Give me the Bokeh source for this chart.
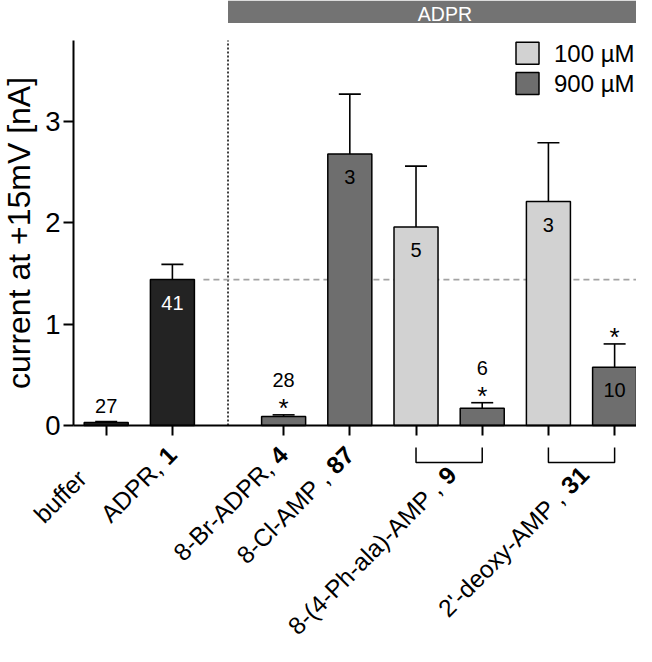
import math
from bokeh.plotting import figure
from bokeh.models import FixedTicker, ColumnDataSource, BoxAnnotation, Range1d
from bokeh.core.properties import value
from bokeh.embed import file_html
from bokeh.resources import INLINE

# ---------------- data ----------------
compounds = ["buffer", "ADPR", "8-Br-ADPR", "8-Cl-AMP", "8-(4-Ph-ala)-AMP",
             "8-(4-Ph-ala)-AMP", "2'-deoxy-AMP", "2'-deoxy-AMP"]
conc_group = ["control", "control", "900 µM", "900 µM", "100 µM", "900 µM", "100 µM", "900 µM"]
means = [0.03, 1.44, 0.09, 2.68, 1.96, 0.17, 2.21, 0.575]
sems = [0.01, 0.15, 0.015, 0.59, 0.60, 0.055, 0.58, 0.23]
n_cells = [27, 41, 28, 3, 5, 6, 3, 10]
significant = [False, False, True, False, False, True, False, True]

label_text = ["buffer", "ADPR,", "8-Br-ADPR,", "8-Cl-AMP ,", "8-(4-Ph-ala)-AMP ,", "2'-deoxy-AMP ,"]
label_bold = ["", "1", "4", "87", "9", "31"]
label_members = [[0], [1], [2], [3], [4, 5], [6, 7]]
legend_labels = ["100 µM", "900 µM"]
y_ticks = [0, 1, 2, 3]
header_text = "ADPR"
y_title = "current at +15mV [nA]"

# ---------------- layout ----------------
W, H = 636, 646
PX_X = 66.2      # px per category step
PX_Y = 101.33    # px per nA
ORIG_X, ORIG_Y = 105.7, 425.0   # canvas position of (first bar, 0 nA)

def to_u(X):
    return (X - ORIG_X) / PX_X

def to_v(Y):
    return (ORIG_Y - Y) / PX_Y

def dxp(px):
    return px / PX_X

def dyp(px):
    return px / PX_Y

x_start, x_end = to_u(0), to_u(W)
y_end, y_start = to_v(0), to_v(H)

FONT_NAME = "Liberation Sans"
FONT = value(FONT_NAME)
colors = {"control": "#232323", "100 µM": "#d2d2d2", "900 µM": "#6e6e6e"}

xpos = [i if i < 2 else i + 0.68 for i in range(len(means))]
bar_w = 0.665
cap_w = dxp(22)
y_axis_top = 3.8
y_axis_x = to_u(73)
x_axis_end = to_u(652)

p = figure(width=W, height=H, x_range=Range1d(x_start, x_end), y_range=Range1d(y_start, y_end),
           output_backend="svg", toolbar_location=None, min_border=0, title=None)
p.outline_line_color = None
p.xgrid.visible = False
p.ygrid.visible = False
p.background_fill_color = "white"
p.border_fill_color = "white"

# axes
ya = p.yaxis[0]
ya.fixed_location = y_axis_x
ya.bounds = (0, y_axis_top)
ya.ticker = FixedTicker(ticks=y_ticks)
ya.major_tick_out = 10
ya.major_tick_in = 0
ya.minor_tick_line_color = None
ya.axis_line_width = 2
ya.major_tick_line_width = 2
ya.major_label_standoff = 3
ya.major_label_text_font = FONT_NAME
ya.major_label_text_font_size = "27.5px"
ya.major_label_text_color = "black"
ya.axis_label = y_title
ya.axis_label_text_font = FONT_NAME
ya.axis_label_text_font_size = "32px"
ya.axis_label_text_font_style = "normal"
ya.axis_label_text_color = "black"
ya.axis_label_standoff = 5

xa = p.xaxis[0]
xa.fixed_location = 0
xa.bounds = (y_axis_x, x_axis_end)
xa.ticker = FixedTicker(ticks=xpos)
xa.major_label_overrides = {x: "" for x in xpos}
xa.major_label_text_font_size = "0px"
xa.major_tick_out = 10
xa.major_tick_in = 0
xa.minor_tick_line_color = None
xa.axis_line_width = 2
xa.major_tick_line_width = 2

# header bar
divider = (xpos[1] + xpos[2]) / 2
header_bottom = y_axis_top + dyp(17.5)
p.add_layout(BoxAnnotation(left=divider, bottom=header_bottom, fill_color="#737373",
                           fill_alpha=1.0, line_alpha=0, level="underlay"))
p.text(x=[(divider + x_axis_end) / 2 + 0.07], y=[header_bottom + dyp(9)], text=[header_text],
       text_font=FONT, text_font_size="19.5px", text_color="white",
       text_align="center", text_baseline="middle")

# divider (dotted) and ADPR reference (dashed)
p.segment(x0=[divider], y0=[0], x1=[divider], y1=[y_axis_top], line_color="black",
          line_width=1.5, line_dash="2 2")
p.segment(x0=[xpos[1] + bar_w / 2 + dxp(9)], y0=[means[1]], x1=[x_axis_end], y1=[means[1]],
          line_color="#a3a3a3", line_width=1.6, line_dash="6 4")

# bars + error bars
tops = [m + s for m, s in zip(means, sems)]
src = ColumnDataSource(dict(x=xpos, top=means, err=tops,
                            fill=[colors[g] for g in conc_group],
                            cl=[x - cap_w / 2 for x in xpos], cr=[x + cap_w / 2 for x in xpos]))
p.segment(x0="x", y0="top", x1="x", y1="err", source=src, line_color="black", line_width=1.6)
p.segment(x0="cl", y0="err", x1="cr", y1="err", source=src, line_color="black", line_width=1.6)
p.vbar(x="x", top="top", bottom=0, width=bar_w, source=src, fill_color="fill",
       line_color="black", line_width=1.5)

# n labels and significance stars
in_x, in_y, in_t, in_c = [], [], [], []
ab_x, ab_y, ab_t = [], [], []
st_x, st_y = [], []
for x, m, t, n, sig, g in zip(xpos, means, tops, n_cells, significant, conc_group):
    if m > 0.4:
        in_x.append(x); in_y.append(m - dyp(23)); in_t.append(str(n))
        in_c.append("white" if g == "control" else "black")
    else:
        ab_x.append(x); ab_t.append(str(n))
        ab_y.append(t + (dyp(35) if sig else dyp(15)))
    if sig:
        st_x.append(x); st_y.append(t + dyp(7))
p.text(x=in_x, y=in_y, text=in_t, text_color=in_c, text_font=FONT, text_font_size="20px",
       text_align="center", text_baseline="middle")
p.text(x=ab_x, y=ab_y, text=ab_t, text_color="black", text_font=FONT, text_font_size="20px",
       text_align="center", text_baseline="middle")
p.text(x=st_x, y=st_y, text=["*"] * len(st_x), text_color="black", text_font=FONT,
       text_font_size="26px", text_align="center", text_baseline="middle")

# brackets under paired bars
br_xs, br_ys = [], []
for members in label_members:
    if len(members) > 1:
        a, b = xpos[members[0]], xpos[members[-1]]
        br_xs.append([a, a, b, b])
        br_ys.append([-dyp(22), -dyp(37), -dyp(37), -dyp(22)])
p.multi_line(xs=br_xs, ys=br_ys, line_color="black", line_width=1.5)

# rotated category labels (normal part + bold compound number)
FS = 24.5
ang = math.pi / 4
c45 = math.cos(ang)
label_shift_px = {0: 34}
n_x, n_y, n_t, b_x, b_y, b_t = [], [], [], [], [], []
for i, (txt, bold, members) in enumerate(zip(label_text, label_bold, label_members)):
    xs_px = [ORIG_X + xpos[k] * PX_X for k in members]
    if len(members) == 1:
        EX, EY = xs_px[0], ORIG_Y + 25
    else:
        EX, EY = sum(xs_px) / len(xs_px) + 3, ORIG_Y + 45
    s = label_shift_px.get(i, 0)
    EX, EY = EX - s * c45, EY + s * c45
    if bold:
        wb = 0.556 * FS * len(bold)
        BX, BY = EX - wb * c45, EY + wb * c45
        b_x.append(to_u(BX)); b_y.append(to_v(BY)); b_t.append(bold)
        ws = 0.278 * FS
        NX, NY = BX - ws * c45, BY + ws * c45
    else:
        NX, NY = EX, EY
    n_x.append(to_u(NX)); n_y.append(to_v(NY)); n_t.append(txt)
p.text(x=n_x, y=n_y, text=n_t, angle=ang, text_font=FONT, text_font_size=f"{FS}px",
       text_color="black", text_align="right", text_baseline="middle")
p.text(x=b_x, y=b_y, text=b_t, angle=ang, text_font=FONT, text_font_size=f"{FS}px",
       text_font_style="bold", text_color="black", text_align="left", text_baseline="middle")

# legend (manual)
leg_y = [to_v(52.8), to_v(83.0)]
p.rect(x=[to_u(527)] * 2, y=leg_y, width=23, height=22, width_units="screen",
       height_units="screen", fill_color=[colors[l] for l in legend_labels],
       line_color="black", line_width=1.5)
p.text(x=[to_u(553.5)] * 2, y=leg_y, text=legend_labels, text_font=FONT,
       text_font_size="24px", text_color="black", text_align="left", text_baseline="middle")

open("out.html", "w").write(file_html(p, INLINE))
